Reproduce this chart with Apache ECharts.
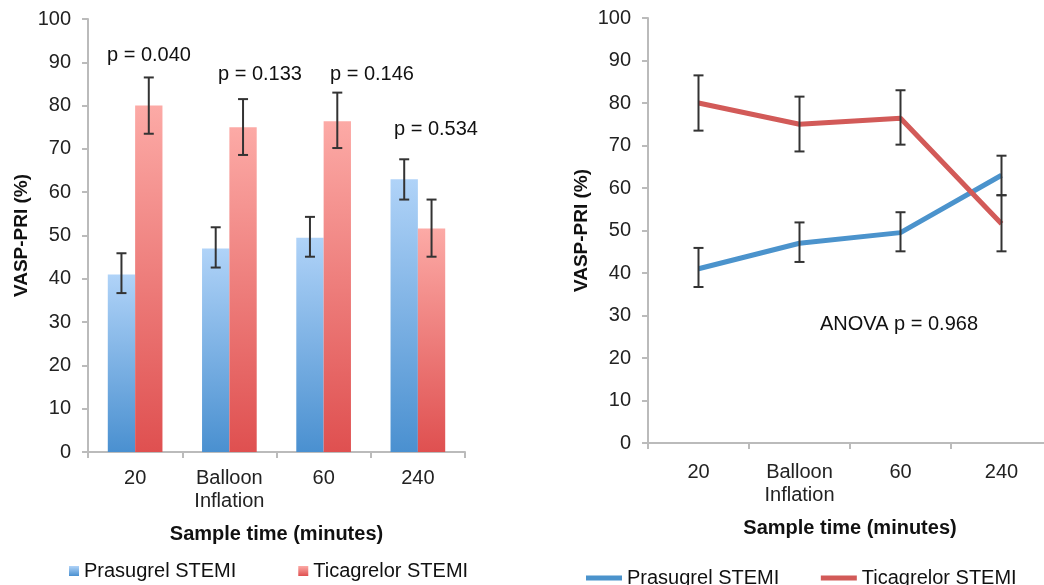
<!DOCTYPE html>
<html><head><meta charset="utf-8">
<script src="https://cdn.jsdelivr.net/npm/echarts@6/dist/echarts.min.js"></script>
<style>html,body{margin:0;padding:0;background:#fff;overflow:hidden}#c{width:1052px;height:585px}</style>
</head><body><div id="c"></div>
<script>
var categories = ['20', 'Balloon\nInflation', '60', '240'];
var yTicks = [0, 10, 20, 30, 40, 50, 60, 70, 80, 90, 100];
var prasugrel = [41, 47, 49.5, 63];
var prasugrelLow = [36.7, 42.6, 45.1, 58.3];
var prasugrelHigh = [45.9, 51.9, 54.3, 67.6];
var ticagrelor = [80, 75, 76.4, 51.6];
var ticagrelorLow = [73.5, 68.6, 70.2, 45.1];
var ticagrelorHigh = [86.5, 81.5, 83, 58.3];
var pLabels = ['p = 0.040', 'p = 0.133', 'p = 0.146', 'p = 0.534'];
var anovaLabel = 'ANOVA p = 0.968';
var seriesNames = ['Prasugrel STEMI', 'Ticagrelor STEMI'];

var FONT = 'Liberation Sans, Arial, sans-serif';
var FS = 20;
var chart = echarts.init(document.getElementById('c'), null, {renderer: 'canvas'});

function errData(low, high) {
  return low.map(function (l, i) { return [i, l, high[i]]; });
}
function errRender(offsetSign) {
  return function (params, api) {
    var i = api.value(0);
    var lo = api.coord([i, api.value(1)]);
    var hi = api.coord([i, api.value(2)]);
    var catW = api.size([1, 0])[0];
    var off = offsetSign * catW * 0.58 / 4;
    var x = lo[0] + off;
    var cap = 5;
    var st = {stroke: '#333', lineWidth: 2};
    return {type: 'group', children: [
      {type: 'line', shape: {x1: x, y1: lo[1], x2: x, y2: hi[1]}, style: st},
      {type: 'line', shape: {x1: x - cap, y1: lo[1], x2: x + cap, y2: lo[1]}, style: st},
      {type: 'line', shape: {x1: x - cap, y1: hi[1], x2: x + cap, y2: hi[1]}, style: st}
    ]};
  };
}
function grad(top, bottom) {
  return new echarts.graphic.LinearGradient(0, 0, 0, 1, [{offset: 0, color: top}, {offset: 1, color: bottom}]);
}
function yAxis(gi) {
  return {
    gridIndex: gi, type: 'value', min: yTicks[0], max: yTicks[yTicks.length - 1], interval: 10,
    name: 'VASP-PRI (%)', nameLocation: 'middle', nameGap: 57,
    nameTextStyle: {fontFamily: FONT, fontSize: FS - 1, fontWeight: 'bold', color: '#111'},
    axisLine: {show: true, lineStyle: {color: '#bbb', width: 2}},
    axisTick: {show: true, length: 6, lineStyle: {color: '#bbb', width: 2}},
    axisLabel: {fontFamily: FONT, fontSize: FS, color: '#222', margin: 17},
    splitLine: {show: false}
  };
}
function xAxis(gi, labelMargin, nameGap) {
  return {
    gridIndex: gi, type: 'category', data: categories,
    name: 'Sample time (minutes)', nameLocation: 'middle', nameGap: nameGap,
    nameTextStyle: {fontFamily: FONT, fontSize: FS, fontWeight: 'bold', color: '#111'},
    axisLine: {lineStyle: {color: '#bbb', width: 2}},
    axisTick: {show: true, length: 6, alignWithLabel: false, lineStyle: {color: '#bbb', width: 2}},
    axisLabel: {fontFamily: FONT, fontSize: FS, color: '#222', margin: labelMargin, lineHeight: 23, interval: 0}
  };
}
var graphics = [];
var pPos = [[149, 55], [260, 74], [372, 74], [436, 129]];
pLabels.forEach(function (t, i) {
  graphics.push({type: 'text', x: pPos[i][0], y: pPos[i][1], style: {text: t, font: FS + 'px ' + FONT, fill: '#111', textAlign: 'center', textVerticalAlign: 'middle'}});
});
graphics.push({type: 'text', x: 899, y: 324, style: {text: anovaLabel, font: FS + 'px ' + FONT, fill: '#111', textAlign: 'center', textVerticalAlign: 'middle'}});

chart.setOption({
  animation: false,
  grid: [
    {left: 88, top: 19, width: 377, height: 433},
    {left: 648, top: 18, right: 0, height: 425}
  ],
  xAxis: [xAxis(0, 15, 72), xAxis(1, 18, 75)],
  yAxis: [yAxis(0), yAxis(1)],
  legend: [
    {data: [seriesNames[0], seriesNames[1]].map(function (n) { return {name: n, icon: 'rect'}; }),
     left: 64, top: 556, itemWidth: 10, itemHeight: 10, itemGap: 62,
     textStyle: {fontFamily: FONT, fontSize: FS, color: '#111'}},
    {data: [{name: seriesNames[0] + ' ', icon: 'rect'}, {name: seriesNames[1] + ' ', icon: 'rect'}],
     left: 581, top: 563, itemWidth: 36, itemHeight: 5, itemGap: 36,
     textStyle: {fontFamily: FONT, fontSize: FS, color: '#111'}}
  ],
  graphic: graphics,
  series: [
    {name: seriesNames[0], type: 'bar', xAxisIndex: 0, yAxisIndex: 0, data: prasugrel,
     barGap: '0%', barCategoryGap: '42%', itemStyle: {color: grad('#b0d3f8', '#4a90d0')}},
    {name: seriesNames[1], type: 'bar', xAxisIndex: 0, yAxisIndex: 0, data: ticagrelor,
     barGap: '0%', barCategoryGap: '42%', itemStyle: {color: grad('#fcaaa6', '#df5050')}},
    {type: 'custom', xAxisIndex: 0, yAxisIndex: 0, data: errData(prasugrelLow, prasugrelHigh), renderItem: errRender(-1), z: 5},
    {type: 'custom', xAxisIndex: 0, yAxisIndex: 0, data: errData(ticagrelorLow, ticagrelorHigh), renderItem: errRender(1), z: 5},
    {name: seriesNames[0] + ' ', type: 'line', xAxisIndex: 1, yAxisIndex: 1, data: prasugrel, symbol: 'none',
     lineStyle: {color: '#4b93cc', width: 5}, itemStyle: {color: '#4b93cc'}, z: 3},
    {name: seriesNames[1] + ' ', type: 'line', xAxisIndex: 1, yAxisIndex: 1, data: ticagrelor, symbol: 'none',
     lineStyle: {color: '#d25a58', width: 5}, itemStyle: {color: '#d25a58'}, z: 3},
    {type: 'custom', xAxisIndex: 1, yAxisIndex: 1, data: errData(prasugrelLow, prasugrelHigh), renderItem: errRender(0), z: 5},
    {type: 'custom', xAxisIndex: 1, yAxisIndex: 1, data: errData(ticagrelorLow, ticagrelorHigh), renderItem: errRender(0), z: 5}
  ]
});
</script></body></html>
